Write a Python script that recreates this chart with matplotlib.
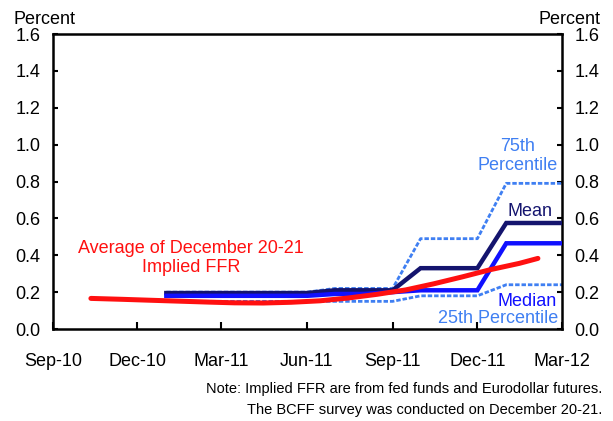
import matplotlib
matplotlib.use("Agg")
import matplotlib.pyplot as plt
import pandas as pd

plt.rcParams['font.family'] = ['Liberation Sans', 'DejaVu Sans']

# BCFF survey, monthly
survey_dates = ["2011-01-01", "2011-02-01", "2011-03-01", "2011-04-01", "2011-05-01",
                "2011-06-01", "2011-07-01", "2011-08-01", "2011-09-01", "2011-10-01",
                "2011-11-01", "2011-12-01", "2012-01-01", "2012-02-01", "2012-03-01"]
pct75 = [0.20, 0.20, 0.20, 0.20, 0.20, 0.20, 0.22, 0.22, 0.22, 0.49, 0.49, 0.49, 0.79, 0.79, 0.79]
mean = [0.195, 0.195, 0.195, 0.195, 0.195, 0.195, 0.21, 0.21, 0.21, 0.33, 0.33, 0.33, 0.575, 0.575, 0.575]
median = [0.18, 0.18, 0.18, 0.18, 0.18, 0.18, 0.19, 0.19, 0.20, 0.21, 0.21, 0.21, 0.465, 0.465, 0.465]
pct25 = [0.15, 0.15, 0.15, 0.15, 0.15, 0.15, 0.15, 0.15, 0.15, 0.18, 0.18, 0.18, 0.24, 0.24, 0.24]

# implied FFR, average of December 20-21
ffr_dates = ["2010-10-12", "2010-11-15", "2010-12-15", "2011-01-15", "2011-02-15",
             "2011-03-15", "2011-04-15", "2011-05-15", "2011-06-15", "2011-07-15",
             "2011-08-15", "2011-09-15", "2011-10-15", "2011-11-15", "2011-12-15",
             "2012-01-15", "2012-02-04"]
ffr = [0.166, 0.161, 0.156, 0.151, 0.146, 0.142, 0.141, 0.145, 0.153, 0.168,
       0.188, 0.212, 0.245, 0.283, 0.322, 0.356, 0.383]

tick_dates = ["2010-09-01", "2010-12-01", "2011-03-01", "2011-06-01",
              "2011-09-01", "2011-12-01", "2012-03-01"]
tick_labels = ["Sep-10", "Dec-10", "Mar-11", "Jun-11", "Sep-11", "Dec-11", "Mar-12"]
y_ticks = [0.0, 0.2, 0.4, 0.6, 0.8, 1.0, 1.2, 1.4, 1.6]

sd = pd.to_datetime(survey_dates)
fd = pd.to_datetime(ffr_dates)
td = pd.to_datetime(tick_dates)

C_PCT = "#3f7ff2"
C_MEAN = "#14146e"
C_MED = "#1010ff"
C_RED = "#ff1010"

fig = plt.figure(figsize=(6.13, 4.21), dpi=100)
ax = fig.add_axes([0.086, 0.2185, 0.831, 0.7007])

dash = (0, (1.6, 0.7))
ax.plot(sd, pct25, color=C_PCT, lw=2.0, ls=dash, zorder=2)
ax.plot(sd, pct75, color=C_PCT, lw=2.0, ls=dash, zorder=2)
ax.plot(sd, mean, color=C_MEAN, lw=3.2, zorder=3, solid_joinstyle='miter')
ax.plot(sd, median, color=C_MED, lw=3.2, zorder=3.5, solid_joinstyle='miter')
ax.plot(fd, ffr, color=C_RED, lw=3.6, zorder=4, solid_capstyle='round')

ax.set_xlim(td[0], td[-1])
ax.set_ylim(0, 1.6)
ax.set_xticks(td)
ax.set_xticklabels(tick_labels)
ax.set_yticks(y_ticks)
ax.set_yticklabels([f"{v:.1f}" for v in y_ticks])
ax.xaxis.set_minor_locator(matplotlib.ticker.NullLocator())

for s in ax.spines.values():
    s.set_linewidth(1.8)
ax.tick_params(axis='y', which='both', direction='in', left=True, right=True,
               labelleft=True, labelright=True, length=3.5, width=1.5,
               labelsize=13, pad=9)
ax.tick_params(axis='x', direction='in', length=5, width=1.5, labelsize=13, pad=17)

fs = 13
ax.text(0.912, 0.585, "75th\nPercentile", color=C_PCT, fontsize=fs, ha='center',
        va='center', transform=ax.transAxes, linespacing=1.15)
ax.text(0.982, 0.398, "Mean", color=C_MEAN, fontsize=fs, ha='right', va='center',
        transform=ax.transAxes)
ax.text(0.990, 0.0925, "Median", color=C_MED, fontsize=fs, ha='right', va='center',
        transform=ax.transAxes)
ax.text(0.993, 0.036, "25th Percentile", color=C_PCT, fontsize=fs, ha='right',
        va='center', transform=ax.transAxes)
ax.text(0.2716, 0.242, "Average of December 20-21\nImplied FFR", color=C_RED,
        fontsize=fs, ha='center', va='center', transform=ax.transAxes, linespacing=1.15)

fig.text(13 / 613, 1 - 19 / 421, "Percent", fontsize=fs, ha='left', va='center')
fig.text(601 / 613, 1 - 19 / 421, "Percent", fontsize=fs, ha='right', va='center')

fig.text(602 / 613, 1 - 389 / 421,
         "Note: Implied FFR are from fed funds and Eurodollar futures.",
         fontsize=10.5, ha='right', va='center')
fig.text(602 / 613, 1 - 410 / 421,
         "The BCFF survey was conducted on December 20-21.",
         fontsize=10.5, ha='right', va='center')

fig.savefig("out.png", dpi=100)
